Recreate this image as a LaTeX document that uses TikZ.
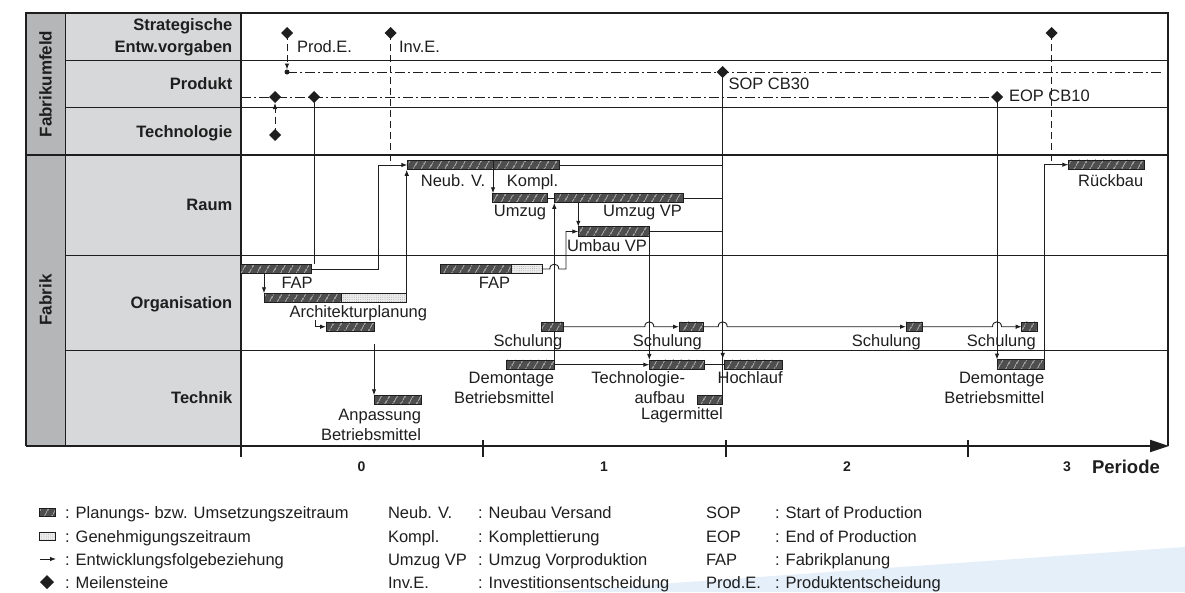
\documentclass[tikz,border=0pt]{standalone}
\usepackage{fontspec}
\setmainfont{Liberation Sans}
\usetikzlibrary{arrows.meta,patterns.meta,shapes.geometric,calc}
\definecolor{colA}{RGB}{180,182,184}
\definecolor{colB}{RGB}{215,216,217}
\definecolor{barfill}{RGB}{78,78,78}
\definecolor{hatch}{RGB}{165,165,165}
\definecolor{dotfill}{RGB}{236,236,236}
\definecolor{ink}{RGB}{30,30,30}
\definecolor{bluebg}{RGB}{229,239,249}
\pgfdeclarelayer{back}
\pgfdeclarelayer{mid}
\pgfsetlayers{back,mid,main}
\begin{document}
\begin{tikzpicture}[x=1pt,y=-1pt,
  every node/.style={inner sep=0pt, outer sep=0pt, font=\fontsize{16.5}{19}\selectfont, text=ink},
  bar/.style={draw=ink, line width=0.8pt, minimum height=9.5pt, anchor=west,
    preaction={fill=barfill}, pattern={Lines[angle=60,distance=6.5pt,line width=0.7pt]}, pattern color=hatch},
  dbar/.style={draw=ink, line width=0.8pt, minimum height=9.5pt, anchor=west,
    preaction={fill=dotfill}, pattern={Dots[distance=2.2pt,radius=0.35pt]}, pattern color=black!50},
  ms/.style={diamond, fill=ink, minimum width=12pt, minimum height=12pt},
  lab/.style={anchor=base},
  labr/.style={anchor=base east},
  labl/.style={anchor=base west},
  rowlab/.style={anchor=base east, font=\bfseries\fontsize{16.5}{19}\selectfont},
  ln/.style={draw=ink, line width=0.9pt},
  arr/.style={ln, -{Latex[length=6pt,width=4.5pt]}},
  dsh/.style={dash pattern=on 7pt off 4pt},
  dd/.style={ln, dash pattern=on 10pt off 3pt on 2pt off 3pt},
  thinl/.style={draw=ink, line width=1pt},
  thickl/.style={draw=ink, line width=2pt}]
\useasboundingbox (0,0) rectangle (1185,592);

\begin{pgfonlayer}{back}
% background
\fill[bluebg] (545,592) -- (1185,547) -- (1185,592) -- cycle;
\fill[colA] (26,13) rectangle (65,446);
\fill[colB] (65,13) rectangle (240.7,446);
% grid
\draw[thinl] (65,60) -- (1168,60);
\draw[thinl] (65,107) -- (1168,107);
\draw[thinl] (65,255) -- (1168,255);
\draw[thinl] (65,350) -- (1168,350);
\draw[thinl] (65,13) -- (65,446);
\draw[thickl] (26,155) -- (1168,155);
\draw[thickl] (240.7,13) -- (240.7,457);
\draw[thickl] (1168,446) -- (1168,13) -- (26,13) -- (26,446);
\draw[thickl, -{Triangle[length=19pt,width=12pt]}] (26,446) -- (1169,446);
\draw[line width=1.5pt, draw=ink] (483,440) -- (483,457);
\draw[line width=1.5pt, draw=ink] (726,440) -- (726,457);
\draw[line width=1.5pt, draw=ink] (968,440) -- (968,457);
\end{pgfonlayer}

% row labels
\node[rotate=90, font=\bfseries\fontsize{17}{19}\selectfont] (fu) at (45.5,84) {Fabrikumfeld};
\node[rotate=90, font=\bfseries\fontsize{17}{19}\selectfont] (fa) at (45.5,300) {Fabrik};
\node[rowlab] (r1a) at (232.3,30.7) {Strategische};
\node[rowlab] (r1b) at (232.3,52.7) {Entw.vorgaben};
\node[rowlab] (r2) at (232.3,89) {Produkt};
\node[rowlab] (r3) at (232.3,137.3) {Technologie};
\node[rowlab] (r4) at (232.3,210) {Raum};
\node[rowlab] (r5) at (232.3,308.3) {Organisation};
\node[rowlab] (r6) at (232.3,403.3) {Technik};

% axis labels
\node[font=\bfseries\fontsize{14}{16}\selectfont] (t0) at (361.5,467) {0};
\node[font=\bfseries\fontsize{14}{16}\selectfont] (t1) at (604,467) {1};
\node[font=\bfseries\fontsize{14}{16}\selectfont] (t2) at (847,467) {2};
\node[font=\bfseries\fontsize{14}{16}\selectfont] (t3) at (1067,467) {3};
\node[anchor=base west, font=\bfseries\fontsize{18.5}{20}\selectfont] (per) at (1092,473.5) {Periode};

% milestones
\node[ms] (ms_prod) at (287,33) {};
\node[ms] (ms_inv) at (390.7,33) {};
\node[ms] (ms_top) at (1051.7,33) {};
\node[circle, fill=ink, minimum size=5pt] (pdot) at (287,72) {};
\node[ms] (ms_sop) at (722.7,72) {};
\node[ms] (ms_p1) at (275,97) {};
\node[ms] (ms_p2) at (314,97) {};
\node[ms] (ms_eop) at (997,97) {};
\node[ms] (ms_tech) at (275,135) {};
\coordinate (p1end) at (1162,72);
\coordinate (p2start) at (241,97);
\node[labl] (l_prod) at (297,52.7) {Prod.E.};
\node[labl] (l_inv) at (399,52.7) {Inv.E.};
\node[labl] (l_sop) at (728.5,89.3) {SOP CB30};
\node[labl] (l_eop) at (1009,101.7) {EOP CB10};

% bars
\node[bar, minimum width=85.7pt] (neub) at (407.3,165) {};
\node[bar, minimum width=66.3pt] (kompl) at (493,165) {};
\node[bar, minimum width=55pt] (umzug) at (492.5,198) {};
\node[bar, minimum width=129pt] (umzugvp) at (554.3,198) {};
\node[bar, minimum width=71pt] (umbau) at (578.3,231.5) {};
\node[bar, minimum width=76pt] (rueck) at (1068.3,164.7) {};
\node[bar, minimum width=71pt] (fap1) at (240.7,269) {};
\node[bar, minimum width=71pt] (fap2h) at (440.7,269) {};
\node[dbar, minimum width=30.6pt] (fap2d) at (511.7,269) {};
\node[bar, minimum width=77pt] (archh) at (264,298) {};
\node[dbar, minimum width=65.7pt] (archd) at (341,298) {};
\node[bar, minimum width=48pt] (ap2) at (326,326.7) {};
\node[bar, minimum width=21.6pt] (schul1) at (541.7,326.7) {};
\node[bar, minimum width=24.3pt] (schul2) at (679,326.7) {};
\node[bar, minimum width=16.3pt] (schul3) at (906,326.7) {};
\node[bar, minimum width=15.6pt] (schul4) at (1021.7,326.7) {};
\node[bar, minimum width=47.7pt] (anp) at (374,400) {};
\node[bar, minimum width=47.6pt] (dem1) at (506.7,364.7) {};
\node[bar, minimum width=54.7pt] (techauf) at (649.3,364.7) {};
\node[bar, minimum width=58.7pt] (hoch) at (724,364.7) {};
\node[bar, minimum width=25pt] (lager) at (697.7,400) {};
\node[bar, minimum width=47.3pt] (dem2) at (997,364.3) {};

% bar labels
\node[lab] (l_neub) at (453,186.7) {Neub. V.};
\node[lab] (l_kompl) at (532.5,186.7) {Kompl.};
\node[lab] (l_umzug) at (520,216.7) {Umzug};
\node[labr] (l_umzugvp) at (682,216.7) {Umzug VP};
\node[labl] (l_umbau) at (567,251.7) {Umbau VP};
\node[labr] (l_rueck) at (1143.3,186.7) {Rückbau};
\node[labr] (l_fap1) at (312.7,288.3) {FAP};
\node[lab] (l_fap2) at (494.5,288.3) {FAP};
\node[lab] (l_arch) at (358.3,317.7) {Architekturplanung};
\node[labr] (l_s1) at (562.3,346.7) {Schulung};
\node[labr] (l_s2) at (701.7,346.7) {Schulung};
\node[labr] (l_s3) at (920.7,346.7) {Schulung};
\node[labr] (l_s4) at (1035.7,346.7) {Schulung};
\node[labr] (l_anp1) at (421,420) {Anpassung};
\node[labr] (l_anp2) at (421,440) {Betriebsmittel};
\node[labr] (l_dem1a) at (554,383.3) {Demontage};
\node[labr] (l_dem1b) at (554,403.3) {Betriebsmittel};
\node[labr] (l_tec1) at (685,383.3) {Technologie-};
\node[labr] (l_tec2) at (685,403.3) {aufbau};
\node[labr] (l_hoch) at (782.7,383.3) {Hochlauf};
\node[labr] (l_lager) at (722.7,419) {Lagermittel};
\node[labr] (l_dem2a) at (1044.3,383.3) {Demontage};
\node[labr] (l_dem2b) at (1044.3,403.3) {Betriebsmittel};

% helper coordinates
\coordinate (k1) at (378.3,269);
\coordinate (k2) at (315,320);
\coordinate (k3) at (374,344);
\coordinate (k4) at (566,269);
\coordinate (h1) at (umbau.south east |- schul1.east);
\coordinate (h2) at (dem1.north east |- fap2d.east);
\coordinate (h3) at (ms_sop |- schul2.east);
\coordinate (h4) at (ms_eop |- schul3.east);

% connectors
\begin{pgfonlayer}{mid}
\draw[dd] (pdot.center) -- (p1end);
\draw[dd] (p2start) -- (ms_eop.center);
\draw[arr, dsh] (ms_prod.center) -- (pdot.north);
\draw[ln, dsh] (ms_inv.center) -- (ms_inv |- neub.west);
\draw[ln, dsh] (ms_top.center) -- (ms_top |- rueck.west);
\draw[arr, dsh] (ms_tech.center) -- (ms_p1.south);
\draw[ln] (ms_p2.center) -- (ms_p2 |- fap1.north);
\draw[ln] (ms_sop.center) -- (lager.north east);
\draw[arr] (ms_sop.center) -- ([yshift=1pt]ms_sop |- hoch.north);
\draw[arr] (ms_eop.center) -- (dem2.north west);
\draw[arr] (fap1.east) -- (k1) |- (neub.west);
\draw[arr] (archh.north west |- fap1.south) -- (archh.north west);
\draw[arr] (archd.north east) -- (archd.north east |- neub.south);
\draw[arr] (k2) |- (ap2.west);
\draw[arr] (k3) -- (anp.north west);
\draw[arr] (kompl.south west) -- (kompl.south west |- umzug.north);
\draw[ln] (umzug.east) -- (umzugvp.west);
\draw[ln] (kompl.east) -- (ms_sop |- kompl.east);
\draw[ln] (umzugvp.east) -- (ms_sop |- umzugvp.east);
\draw[ln] (umbau.east) -- (ms_sop |- umbau.east);
\draw[arr] (umbau.north west |- umzugvp.south) -- (umbau.north west);
\draw[arr] (fap2d.east) -- ([xshift=-4.5pt]h2) .. controls +(0,-6.5) and +(0,-6.5) .. ([xshift=4.5pt]h2) -- (k4) |- (umbau.west);
\draw[arr] (dem1.north east) -- (dem1.north east |- umzugvp.south);
\draw[arr] (dem1.east) -- (techauf.west);
\draw[arr] (schul1.east) -- ([xshift=-4.5pt]h1) .. controls +(0,-6.5) and +(0,-6.5) .. ([xshift=4.5pt]h1) -- (schul2.west);
\draw[arr] (schul2.east) -- ([xshift=-4.5pt]h3) .. controls +(0,-6.5) and +(0,-6.5) .. ([xshift=4.5pt]h3) -- (schul3.west);
\draw[arr] (schul3.east) -- ([xshift=-4.5pt]h4) .. controls +(0,-6.5) and +(0,-6.5) .. ([xshift=4.5pt]h4) -- (schul4.west);
\draw[arr] (umbau.south east) -- (techauf.north west);
\draw[ln] (techauf.east) -- (hoch.west);
\draw[arr] (dem2.north east) |- (rueck.west);
\end{pgfonlayer}

% legend
\node[bar, minimum width=16pt, minimum height=8pt] (lg1) at (39,512) {};
\node[dbar, minimum width=16pt, minimum height=8pt] (lg2) at (39,536) {};
\coordinate (lg3a) at (40,559);
\coordinate (lg3b) at (56,559);
\draw[arr] (lg3a) -- (lg3b);
\node[ms, minimum width=14pt, minimum height=14pt] (lg4) at (47,582) {};
\node[labl] (lt1) at (65,518) {: Planungs- bzw. Umsetzungszeitraum};
\node[labl] (lt2) at (65,542) {: Genehmigungszeitraum};
\node[labl] (lt3) at (65,565) {: Entwicklungsfolgebeziehung};
\node[labl] (lt4) at (65,588) {: Meilensteine};
\node[labl] (la1) at (388,518) {Neub. V.};
\node[labl] (la2) at (388,542) {Kompl.};
\node[labl] (la3) at (388,565) {Umzug VP};
\node[labl] (la4) at (388,588) {Inv.E.};
\node[labl] (lb1) at (478,518) {: Neubau Versand};
\node[labl] (lb2) at (478,542) {: Komplettierung};
\node[labl] (lb3) at (478,565) {: Umzug Vorproduktion};
\node[labl] (lb4) at (478,588) {: Investitionsentscheidung};
\node[labl] (lc1) at (706,518) {SOP};
\node[labl] (lc2) at (706,542) {EOP};
\node[labl] (lc3) at (706,565) {FAP};
\node[labl] (lc4) at (706,588) {Prod.E.};
\node[labl] (ld1) at (775,518) {: Start of Production};
\node[labl] (ld2) at (775,542) {: End of Production};
\node[labl] (ld3) at (775,565) {: Fabrikplanung};
\node[labl] (ld4) at (775,588) {: Produktentscheidung};
\end{tikzpicture}
\end{document}
